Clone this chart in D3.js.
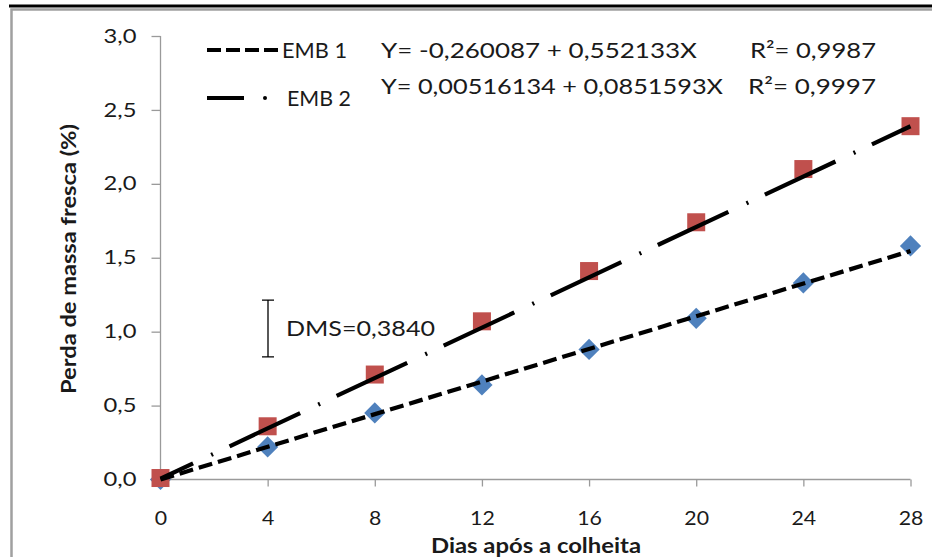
<!DOCTYPE html>
<html>
<head>
<meta charset="utf-8">
<script src="https://cdn.jsdelivr.net/npm/d3@7/dist/d3.min.js"></script>
<style>
  html, body { margin: 0; padding: 0; background: #fff; }
  svg { display: block; }
  text { font-family: Lato, "Open Sans", sans-serif; fill: #1a1a1a; }
</style>
</head>
<body>
<svg id="chart" width="932" height="557"></svg>
<script>
// Days after harvest (x) and fresh-mass loss (%) per packaging
const days = [0, 4, 8, 12, 16, 20, 24, 28];
const emb1 = [0.00, 0.22, 0.45, 0.64, 0.88, 1.09, 1.33, 1.58];
const emb2 = [0.01, 0.36, 0.71, 1.07, 1.41, 1.74, 2.10, 2.39];

// Fitted linear trends (intercept, slope per day)
const seriesNames = ["EMB 1", "EMB 2"];
const trendIntercept = [0.0, 0.00516134];
const trendSlope = [0.0552133, 0.0851593];

// Regression annotations
const equations = ["Y= -0,260087 + 0,552133X", "Y= 0,00516134 + 0,0851593X"];
const r2Labels = ["R\u00B2= 0,9987", "R\u00B2= 0,9997"];

// Axis ticks and labels
const xTicks = [0, 4, 8, 12, 16, 20, 24, 28];
const yTicks = [0, 0.5, 1.0, 1.5, 2.0, 2.5, 3.0];
const xTitle = "Dias após a colheita";
const yTitle = "Perda de massa fresca (%)";

// Least significant difference bar
const dmsValue = 0.384;
const dmsLow = 0.83;
const dmsLabel = "DMS=0,3840";

const svg = d3.select("#chart");
const fmt = d => d3.format(".1f")(d).replace(".", ",");

// Widen text horizontally by factor k (wide face look)
function widen(sel, k) {
  sel.each(function () {
    const w = this.getComputedTextLength();
    d3.select(this).attr("textLength", w * k).attr("lengthAdjust", "spacingAndGlyphs");
  });
}

// Outer frame
svg.append("line").attr("x1", 9).attr("x2", 932).attr("y1", 6).attr("y2", 6)
  .attr("stroke", "#000").attr("stroke-width", 3);
svg.append("path").attr("d", "M11.5,557 V9.5 H932")
  .attr("fill", "none").attr("stroke", "#a0a0a0").attr("stroke-width", 2.5);

const x = d3.scaleLinear().domain([0, 28]).range([160.5, 910.5]);
const y = d3.scaleLinear().domain([0, 3]).range([479.5, 36]);

// Axes
const yAxis = svg.append("g").attr("transform", "translate(160.5,0)")
  .call(d3.axisLeft(y).tickValues(yTicks).tickFormat(fmt).tickSize(9).tickPadding(15));
const xAxis = svg.append("g").attr("transform", "translate(0,479.5)")
  .call(d3.axisBottom(x).tickValues(xTicks).tickSize(7).tickPadding(25));
[yAxis, xAxis].forEach(g => {
  g.select(".domain").attr("stroke", "#9a9a9a").attr("stroke-width", 1.3);
  g.selectAll(".tick line").attr("stroke", "#9a9a9a").attr("stroke-width", 1.3);
  g.selectAll(".tick text").attr("font-family", "Lato, sans-serif")
    .attr("font-size", 19).attr("fill", "#1a1a1a");
});
widen(yAxis.selectAll(".tick text"), 1.25);
widen(xAxis.selectAll(".tick text"), 1.12);
yAxis.select(".domain").attr("d", `M0,${y(3)}V${y(0)}`);
xAxis.select(".domain").attr("d", `M${x(0)},0H${x(28)}`);

// Helper: text with a fixed drawn width
function label(sel, opts) {
  const t = sel.append("text").attr("x", opts.x).attr("y", opts.y)
    .attr("font-size", opts.size).text(opts.text);
  if (opts.dy) t.attr("dy", opts.dy);
  if (opts.anchor) t.attr("text-anchor", opts.anchor);
  if (opts.bold) t.attr("font-weight", "bold");
  if (opts.width) t.attr("textLength", opts.width).attr("lengthAdjust", "spacingAndGlyphs");
  if (opts.transform) t.attr("transform", opts.transform);
  return t;
}

// Axis titles
label(svg, { x: 536, y: 553, size: 20, anchor: "middle", bold: true, width: 210, text: xTitle });
label(svg, { x: 0, y: 0, size: 20, anchor: "middle", bold: true, width: 270,
  transform: "translate(76,259) rotate(-90)", text: yTitle });

// Markers
const size = 18;
svg.append("g").selectAll("path").data(days.map((d, i) => [d, emb1[i]])).join("path")
  .attr("d", d3.symbol(d3.symbolSquare, 15 * 15)())
  .attr("transform", d => `translate(${x(d[0])},${y(d[1])}) rotate(45)`)
  .attr("fill", "#4f81bd");
svg.append("g").selectAll("rect").data(days.map((d, i) => [d, emb2[i]])).join("rect")
  .attr("x", d => x(d[0]) - size / 2).attr("y", d => y(d[1]) - size / 2)
  .attr("width", size).attr("height", size).attr("fill", "#c0504d");

// Trend lines
const dashes = ["14,6", "78,20,2,18.3"];
const offsets = [0, 42];
const line = d3.line().x(d => x(d[0])).y(d => y(d[1]));
[0, 1].forEach(k => {
  const pts = [0, 28].map(d => [d, trendIntercept[k] + trendSlope[k] * d]);
  svg.append("path").attr("d", line(pts)).attr("fill", "none")
    .attr("stroke", "#000").attr("stroke-width", 4.2)
    .attr("stroke-dasharray", dashes[k]).attr("stroke-dashoffset", offsets[k]);
});

// Legend
const legendY = [50, 98];
svg.append("path").attr("d", `M207,${legendY[0]}H278`).attr("stroke", "#000")
  .attr("stroke-width", 4.2).attr("stroke-dasharray", "14,5");
svg.append("path").attr("d", `M207,${legendY[1]}H244`).attr("stroke", "#000").attr("stroke-width", 4.2);
svg.append("circle").attr("cx", 265).attr("cy", legendY[1]).attr("r", 2).attr("fill", "#000");
label(svg, { x: 282, y: legendY[0], dy: "0.36em", size: 21, width: 65, text: seriesNames[0] });
label(svg, { x: 287, y: legendY[1], dy: "0.36em", size: 21, width: 64, text: seriesNames[1] });

// Equations
const eqY = [50, 86];
const eqW = [316, 342];
const r2X = [750, 748];
const r2W = [126, 128];
[0, 1].forEach(k => {
  label(svg, { x: 381, y: eqY[k], dy: "0.36em", size: 22, width: eqW[k], text: equations[k] });
  label(svg, { x: r2X[k], y: eqY[k], dy: "0.36em", size: 22, width: r2W[k], text: r2Labels[k] });
});

// DMS bar
const dmsX = 268;
const dmsTop = y(dmsLow + dmsValue), dmsBot = y(dmsLow);
svg.append("path")
  .attr("d", `M${dmsX},${dmsTop}V${dmsBot}M${dmsX - 6},${dmsTop}H${dmsX + 6}M${dmsX - 6},${dmsBot}H${dmsX + 6}`)
  .attr("stroke", "#000").attr("stroke-width", 1.3).attr("fill", "none");
label(svg, { x: 286, y: (dmsTop + dmsBot) / 2, dy: "0.36em", size: 21, width: 149, text: dmsLabel });
</script>
</body>
</html>
